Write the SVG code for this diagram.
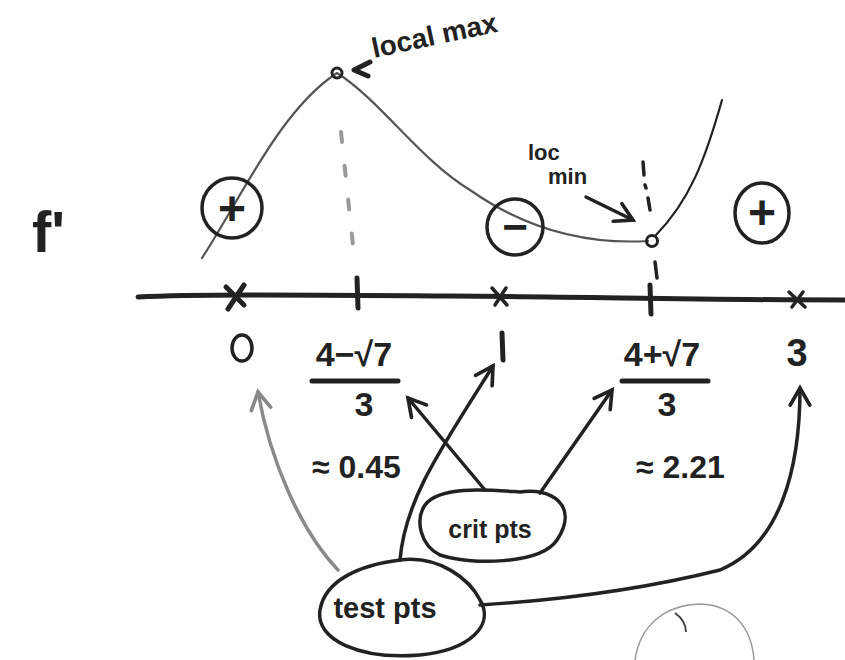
<svg xmlns="http://www.w3.org/2000/svg" width="845" height="660" viewBox="0 0 845 660">
<defs>
<style>
.ink{fill:none;stroke:#222;stroke-linecap:round;stroke-linejoin:round}
.thin{stroke-width:2.2}
.med{stroke-width:3.5}
.thick{stroke-width:5}
.grey{stroke:#8a8a8a}
.dash{fill:none;stroke:#999;stroke-width:4;stroke-dasharray:10 24;stroke-linecap:round}
.t{font-family:"Liberation Sans","DejaVu Sans",sans-serif;fill:#222;font-weight:bold}
</style>
<marker id="ah" viewBox="0 0 20 20" refX="16" refY="10" markerWidth="7" markerHeight="7" markerUnits="strokeWidth" orient="auto">
<path d="M2,2 L16,10 L2,18" fill="none" stroke="#222" stroke-width="3" stroke-linecap="round"/>
</marker>
<marker id="ahg" viewBox="0 0 20 20" refX="16" refY="10" markerWidth="7" markerHeight="7" markerUnits="strokeWidth" orient="auto">
<path d="M2,2 L16,10 L2,18" fill="none" stroke="#888" stroke-width="3" stroke-linecap="round"/>
</marker>
</defs>
<rect width="845" height="660" fill="#fff"/>

<!-- f' label -->
<text class="t" x="32" y="252" font-size="58">f'</text>

<!-- graph of f -->
<g id="curve">
<path class="ink thin grey" style="stroke:#555" d="M202,258 C240,200 280,110 337,73 C380,100 420,160 470,190 C520,225 580,245 648,241"/>
<path class="ink thin" d="M656,235 C690,200 705,160 722,100"/>
<circle cx="337" cy="73" r="5" fill="none" stroke="#222" stroke-width="3"/>
<circle cx="652" cy="241" r="5.5" fill="none" stroke="#222" stroke-width="3"/>
<path class="dash" d="M341,132 L354,255"/>
<path class="ink med" d="M643,162 L644,175 M645,185 L646,188 M648,198 L650,210 M655,262 L657,278"/>
</g>

<g id="local-max-label">
<text class="t" x="374" y="58" font-size="28" transform="rotate(-12 374 58)">local max</text>
<path class="ink thick" d="M370,62 L354,70 L368,76"/>
</g>

<g id="loc-min-label">
<text class="t" x="528" y="160" font-size="22">loc</text>
<text class="t" x="548" y="184" font-size="22">min</text>
<path class="ink med" d="M586,197 L633,220" marker-end="url(#ah)"/>
</g>

<!-- sign circles -->
<g id="sign-plus-left">
<circle cx="232" cy="208" r="30" class="ink med"/>
<text class="t" x="232" y="225" font-size="48" text-anchor="middle">+</text>
</g>
<g id="sign-minus">
<circle cx="515" cy="227" r="28" class="ink med"/>
<text class="t" x="515" y="242" font-size="44" text-anchor="middle">−</text>
</g>
<g id="sign-plus-right">
<ellipse cx="762" cy="213" rx="27" ry="30" class="ink med"/>
<text class="t" x="762" y="229" font-size="48" text-anchor="middle">+</text>
</g>

<!-- number line -->
<g id="number-line">
<path class="ink thick" d="M138,297 C200,294 300,295 450,296 C600,297 700,300 845,300"/>
<path class="ink thick" d="M226,287 L244,305 M244,285 L228,309"/>
<path class="ink thick" d="M357,278 L358,308"/>
<path class="ink med" d="M492,288 L507,305 M506,288 L495,305"/>
<path class="ink thick" d="M650,285 L651,314"/>
<path class="ink med" d="M789,292 L805,307 M803,292 L792,307"/>
</g>

<!-- tick labels -->
<g id="label-0"><ellipse cx="242" cy="348" rx="10" ry="13" class="ink med"/></g>
<g id="label-a">
<text class="t" x="354" y="366" font-size="34" text-anchor="middle">4−√7</text>
<path class="ink thick" d="M312,381 L398,381"/>
<text class="t" x="364" y="416" font-size="34" text-anchor="middle">3</text>
</g>
<g id="label-1"><path class="ink thick" d="M502,333 L503,360"/></g>
<g id="label-b">
<text class="t" x="662" y="366" font-size="34" text-anchor="middle">4+√7</text>
<path class="ink thick" d="M622,381 L708,381"/>
<text class="t" x="667" y="416" font-size="34" text-anchor="middle">3</text>
</g>
<g id="label-3"><text class="t" x="797" y="366" font-size="38" text-anchor="middle">3</text></g>

<text class="t" x="312" y="478" font-size="32">≈ 0.45</text>
<text class="t" x="636" y="478" font-size="32">≈ 2.21</text>

<!-- nodes -->
<g id="crit-pts">
<path class="ink med" d="M425,505 C440,485 490,490 520,492 C550,487 580,505 557,540 C540,565 470,565 440,555 C420,545 415,520 425,505 Z"/>
<text class="t" x="490" y="538" font-size="25" text-anchor="middle">crit pts</text>
</g>
<g id="test-pts">
<path class="ink med" d="M320,610 C325,580 360,565 400,560 C440,555 470,580 480,600 C495,625 470,650 420,655 C360,660 315,640 320,610 Z"/>
<text class="t" x="385" y="618" font-size="29" text-anchor="middle">test pts</text>
</g>
<g id="partial-node">
<path fill="none" stroke="#999" stroke-width="1.5" d="M635,660 C640,625 665,605 700,604 C735,605 752,630 754,660"/>
<path fill="none" stroke="#444" stroke-width="2" d="M675,613 C682,618 686,625 686,632"/>
</g>

<!-- connectors -->
<g id="connectors">
<path class="ink med grey" d="M338,570 C300,530 270,460 258,392" marker-end="url(#ahg)"/>
<path class="ink med" d="M400,560 C405,500 440,450 493,366" marker-end="url(#ah)"/>
<path class="ink med" d="M485,490 L408,398" marker-end="url(#ah)"/>
<path class="ink med" d="M540,493 L612,390" marker-end="url(#ah)"/>
<path class="ink med" d="M480,605 C560,600 640,590 720,570 C780,545 800,470 800,388" marker-end="url(#ah)"/>
</g>
</svg>
